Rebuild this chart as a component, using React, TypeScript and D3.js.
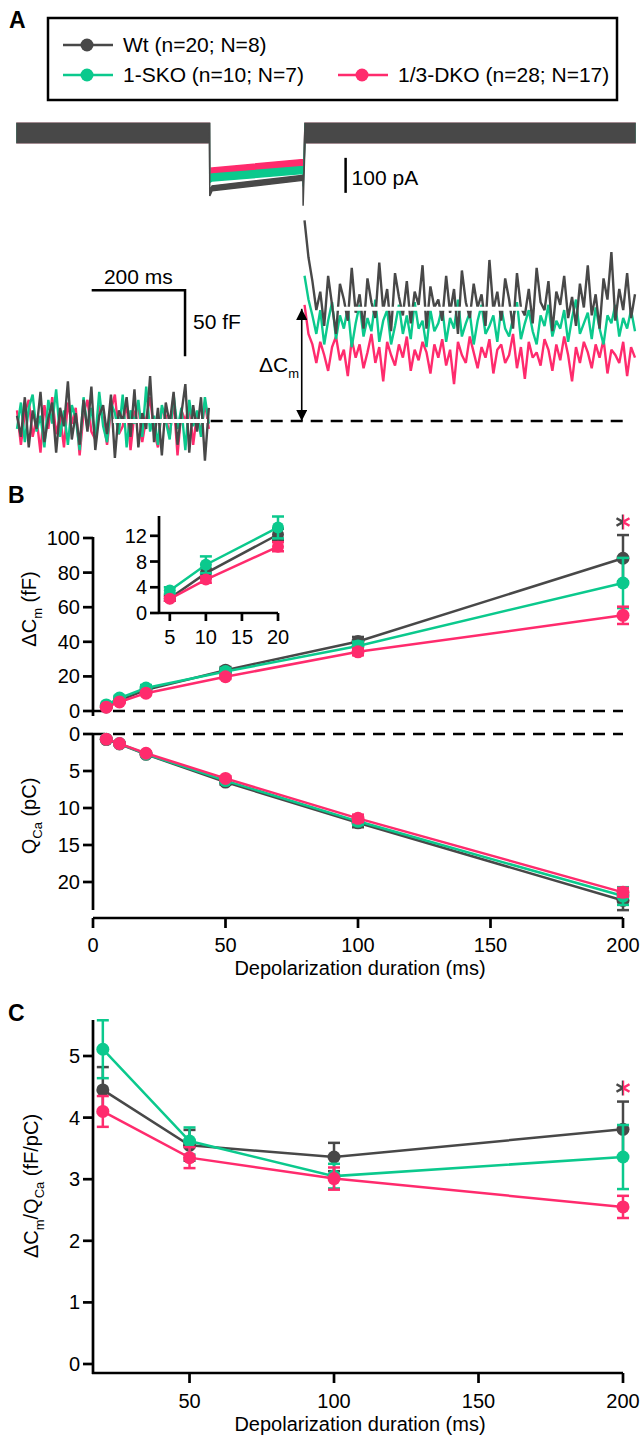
import React from "react";
import * as d3 from "d3";

const GRAY = "#484848";
const GREEN = "#0bc98d";
const PINK = "#ff2b6d";
const FONT = "'Liberation Sans', Arial, Helvetica, sans-serif";

// legend
const groupLabels = ["Wt (n=20; N=8)", "1-SKO (n=10; N=7)", "1/3-DKO (n=28; N=17)"];
const groupColors = [GRAY, GREEN, PINK];

// panel A - membrane current, key points (ms, pA) and noise half width (pA)
const currentTimes = [-413, -0.5, 0, 5, 199.5, 200, 204, 911];
const currentWt = [0, 0, -172, -158, -128, -205, 0, 0];
const currentWtNoise = [27, 27, 8, 7, 7, 3, 27, 27];
const currentSko = [0, 0, -130, -127, -106, -150, 0, 0];
const currentSkoNoise = [27, 27, 11, 10, 10, 3, 27, 27];
const currentDko = [0, 0, -112, -110, -86, -130, 0, 0];
const currentDkoNoise = [28, 28, 11, 10, 10, 3, 28, 28];

// panel A - capacitance traces (fF), before and after the 200 ms pulse
const preSpan = [-413, -2];
const postSpan = [203, 911];
const capPreWt = [4, -12, 18, -20, 8, -6, 22, -16, 2, 14, -24, 10, -4, 30, -14, 6, -18, 16, -8, 26, -22, 4, 12, -10, 20, -28, 8, 0, 18, -12, 24, -20, 6, -6, 34, -16, 10, -26, 14, -2, 22, -18, 6, 28, -24, 12, -8, 18, -30, 10];
const capPreSko = [-6, 14, -16, 10, 20, -8, 4, -20, 16, -2, 24, -12, 8, -18, 12, 2, -22, 18, -6, 10, -14, 22, -4, -16, 14, 6, -10, 20, -20, 8, -2, 16, -12, 26, -8, 4, -18, 12, 0, -14, 20, -6, 10, -22, 16, -4, 8, -12, 18, -2];
const capPreDko = [8, -18, 6, 16, -12, 2, -24, 12, -6, 18, -10, 4, -20, 14, -2, 10, -26, 6, 16, -8, -14, 12, 2, -18, 8, 20, -10, -4, 14, -22, 6, 12, -16, 2, 18, -8, -20, 10, 4, -12, 16, -26, 8, 0, 12, -18, 6, -10, 14, -6];
const capPostWt = [152, 124, 106, 84, 98, 72, 110, 88, 66, 104, 92, 76, 116, 82, 96, 70, 108, 90, 78, 120, 84, 100, 68, 112, 94, 80, 106, 74, 98, 88, 118, 70, 102, 86, 92, 76, 110, 82, 100, 66, 114, 90, 78, 104, 86, 96, 72, 122, 84, 98, 76, 108, 92, 70, 112, 86, 80, 100, 74, 116, 90, 84, 106, 68, 98, 88, 110, 78, 94, 72, 104, 86, 118, 80, 96, 70, 108, 92, 128, 76, 100, 84, 112, 78, 96];
const capPostSko = [110, 92, 80, 66, 84, 58, 76, 90, 62, 80, 70, 86, 56, 74, 88, 64, 78, 68, 92, 60, 76, 84, 58, 72, 88, 66, 80, 62, 90, 70, 76, 56, 84, 68, 74, 86, 60, 78, 70, 92, 64, 74, 82, 58, 76, 88, 66, 72, 80, 60, 86, 70, 64, 78, 90, 62, 74, 84, 68, 58, 80, 72, 88, 64, 76, 70, 84, 60, 78, 92, 66, 74, 82, 62, 86, 70, 58, 80, 74, 88, 64, 78, 70, 84, 68];
const capPostDko = [88, 66, 58, 44, 60, 50, 38, 56, 64, 46, 54, 34, 62, 48, 58, 40, 52, 66, 44, 56, 30, 60, 50, 42, 58, 48, 64, 38, 54, 46, 60, 52, 36, 58, 48, 62, 42, 54, 28, 60, 50, 44, 64, 52, 40, 56, 48, 62, 36, 54, 58, 44, 50, 66, 40, 56, 32, 60, 48, 52, 42, 62, 54, 38, 58, 46, 64, 50, 30, 56, 44, 60, 52, 40, 58, 48, 62, 36, 54, 50, 44, 60, 34, 56, 48];
const preWindow = [-207, -6];
const postWindow = [266, 673];
const postLevel = 85;

// panel B
const durations = [5, 10, 20, 50, 100, 200];
const dCmWt = [2.3, 6.2, 12.2, 23.6, 40.2, 88.3];
const dCmWtSem = [0.4, 0.7, 0.9, 1.8, 2.6, 13.4];
const dCmSko = [3.5, 7.5, 13.3, 22.8, 37.6, 74];
const dCmSkoSem = [0.5, 1.3, 1.7, 2, 2.5, 14.5];
const dCmDko = [2.2, 5.2, 10.3, 19.8, 34.2, 55.3];
const dCmDkoSem = [0.3, 0.5, 0.7, 1.3, 2, 5];
const qWt = [0.75, 1.35, 2.75, 6.5, 12.0, 22.5];
const qWtSem = [0.1, 0.15, 0.2, 0.35, 0.6, 1.3];
const qSko = [0.7, 1.3, 2.7, 6.3, 11.8, 21.9];
const qSkoSem = [0.1, 0.15, 0.2, 0.3, 0.5, 1.2];
const qDko = [0.7, 1.3, 2.6, 6.0, 11.4, 21.4];
const qDkoSem = [0.08, 0.12, 0.2, 0.3, 0.5, 0.6];
const bTopTicks = [0, 20, 40, 60, 80, 100];
const bBottomTicks = [0, 5, 10, 15, 20];
const bXTicks = [0, 50, 100, 150, 200];
const insetYTicks = [0, 4, 8, 12];
const insetXTicks = [5, 10, 15, 20];

// panel C
const ratioDurations = [20, 50, 100, 200];
const ratioWt = [4.45, 3.55, 3.36, 3.81];
const ratioWtSem = [0.37, 0.25, 0.23, 0.45];
const ratioSko = [5.11, 3.62, 3.05, 3.36];
const ratioSkoSem = [0.47, 0.22, 0.2, 0.52];
const ratioDko = [4.1, 3.35, 3.01, 2.55];
const ratioDkoSem = [0.25, 0.17, 0.18, 0.18];
const cYTicks = [0, 1, 2, 3, 4, 5];
const cXTicks = [50, 100, 150, 200];

type Scale = d3.ScaleLinear<number, number>;

function Series(props: { xs: number[]; ys: number[]; sems: number[]; x: Scale; y: Scale; color: string; r: number }) {
  const { xs, ys, sems, x, y, color, r } = props;
  const line = d3.line<number>().x((_, i) => x(xs[i])).y((d) => y(d));
  const cap = 6;
  return (
    <g>
      <path d={line(ys) || ""} fill="none" stroke={color} strokeWidth={2.5} />
      {ys.map((v, i) => {
        const cx = x(xs[i]);
        const y0 = y(v - sems[i]);
        const y1 = y(v + sems[i]);
        return (
          <g key={i} stroke={color} strokeWidth={2.5}>
            <line x1={cx} x2={cx} y1={y0} y2={y1} />
            <line x1={cx - cap} x2={cx + cap} y1={y0} y2={y0} />
            <line x1={cx - cap} x2={cx + cap} y1={y1} y2={y1} />
          </g>
        );
      })}
      {ys.map((v, i) => (
        <circle key={i} cx={x(xs[i])} cy={y(v)} r={r} fill={color} />
      ))}
    </g>
  );
}

function YAxis(props: { y: Scale; ticks: number[]; x: number; top: number; bottom: number; len?: number; gap?: number }) {
  const { y, ticks, x, top, bottom } = props;
  const len = props.len ?? 10;
  const gap = props.gap ?? 3;
  return (
    <g>
      <line x1={x} x2={x} y1={top} y2={bottom} stroke="#000" strokeWidth={2.7} />
      {ticks.map((t) => (
        <g key={t}>
          <line x1={x - len} x2={x} y1={y(t)} y2={y(t)} stroke="#000" strokeWidth={2.7} />
          <text x={x - len - gap} y={y(t) + 7} textAnchor="end">{t}</text>
        </g>
      ))}
    </g>
  );
}

function XAxis(props: { x: Scale; ticks: number[]; y: number; left: number; right: number; labelY: number; len?: number }) {
  const { x, ticks, y, left, right, labelY } = props;
  const len = props.len ?? 10;
  return (
    <g>
      <line x1={left} x2={right} y1={y} y2={y} stroke="#000" strokeWidth={2.7} />
      {ticks.map((t) => (
        <g key={t}>
          <line x1={x(t)} x2={x(t)} y1={y} y2={y + len} stroke="#000" strokeWidth={2.7} />
          <text x={x(t)} y={labelY} textAnchor="middle">{t}</text>
        </g>
      ))}
    </g>
  );
}

function Asterisk(props: { cx: number; cy: number; id: string }) {
  const { cx, cy, id } = props;
  const r = 7.5;
  const d = [90, 30, -30]
    .map((a) => (a * Math.PI) / 180)
    .map((a) => `M${cx - r * Math.cos(a)},${cy - r * Math.sin(a)}L${cx + r * Math.cos(a)},${cy + r * Math.sin(a)}`)
    .join("");
  return (
    <g>
      <clipPath id={id + "L"}><rect x={cx - 10} y={cy - 10} width={10} height={20} /></clipPath>
      <clipPath id={id + "R"}><rect x={cx} y={cy - 10} width={10} height={20} /></clipPath>
      <path d={d} stroke={GRAY} strokeWidth={2.4} clipPath={`url(#${id}L)`} />
      <path d={d} stroke={PINK} strokeWidth={2.4} clipPath={`url(#${id}R)`} />
    </g>
  );
}

export default function App() {
  // panel A scales
  const xA = d3.scaleLinear().domain([-413, 911]).range([17, 635]);
  const yI = d3.scaleLinear().domain([0, -100]).range([133, 168]);
  const yCap = d3.scaleLinear().domain([0, 50]).range([421, 355]);

  const currentArea = (vals: number[], noise: number[]) =>
    d3
      .area<number>()
      .x((_, i) => xA(currentTimes[i]))
      .y0((d, i) => yI(d - noise[i]))
      .y1((d, i) => yI(d + noise[i]))(vals) || "";

  const capLine = (vals: number[], span: number[]) => {
    const t = d3.scaleLinear().domain([0, vals.length - 1]).range(span);
    return d3.line<number>().x((_, i) => xA(t(i))).y((d) => yCap(d))(vals) || "";
  };

  const capTraces = [
    { pre: capPreDko, post: capPostDko, color: PINK },
    { pre: capPreSko, post: capPostSko, color: GREEN },
    { pre: capPreWt, post: capPostWt, color: GRAY },
  ];

  // panel B scales
  const xB = d3.scaleLinear().domain([0, 200]).range([93, 623]);
  const yBTop = d3.scaleLinear().domain([0, 100]).range([711, 538]);
  const yBBottom = d3.scaleLinear().domain([0, 20]).range([734, 882]);
  const xIn = d3.scaleLinear().domain([3.5, 20]).range([159, 278]);
  const yIn = d3.scaleLinear().domain([0, 15]).range([613, 516.5]);

  // panel C scales
  const xC = d3.scaleLinear().domain([16.6, 200]).range([93, 623]);
  const yC = d3.scaleLinear().domain([0, 5]).range([1364, 1056]);

  const bTop = [
    { ys: dCmWt, sems: dCmWtSem, color: GRAY },
    { ys: dCmSko, sems: dCmSkoSem, color: GREEN },
    { ys: dCmDko, sems: dCmDkoSem, color: PINK },
  ];
  const bBottom = [
    { ys: qWt, sems: qWtSem, color: GRAY },
    { ys: qSko, sems: qSkoSem, color: GREEN },
    { ys: qDko, sems: qDkoSem, color: PINK },
  ];
  const cSeries = [
    { ys: ratioWt, sems: ratioWtSem, color: GRAY },
    { ys: ratioSko, sems: ratioSkoSem, color: GREEN },
    { ys: ratioDko, sems: ratioDkoSem, color: PINK },
  ];

  return (
    <svg width={642} height={1435} style={{ position: "absolute", left: 0, top: 0 }} fontFamily={FONT} fontSize={20}>
      <rect width={642} height={1435} fill="#fff" />

      {/* ---------- A ---------- */}
      <text x={9} y={28} fontSize={23} fontWeight="bold">A</text>
      <rect x={48} y={18} width={569} height={82} fill="none" stroke="#000" strokeWidth={2.5} />
      {groupLabels.map((label, i) => {
        const lx = i === 2 ? 338 : 63;
        const ly = i === 0 ? 45 : 75;
        return (
          <g key={label}>
            <line x1={lx} x2={lx + 50} y1={ly} y2={ly} stroke={groupColors[i]} strokeWidth={2.5} />
            <circle cx={lx + 24} cy={ly} r={6.5} fill={groupColors[i]} />
            <text x={lx + 60} y={ly + 7} fontSize={21}>{label}</text>
          </g>
        );
      })}

      {/* current traces */}
      <path d={currentArea(currentDko, currentDkoNoise)} fill={PINK} stroke={PINK} strokeWidth={1.5} />
      <path d={currentArea(currentSko, currentSkoNoise)} fill={GREEN} stroke={GREEN} strokeWidth={1.5} />
      <path d={currentArea(currentWt, currentWtNoise)} fill={GRAY} stroke={GRAY} strokeWidth={1.5} />
      <line x1={xA(291)} x2={xA(291)} y1={yI(-71)} y2={yI(-171)} stroke="#000" strokeWidth={2.5} />
      <text x={xA(291) + 6} y={185} fontSize={21}>100 pA</text>

      {/* capacitance traces */}
      <line x1={xA(2)} x2={xA(890)} y1={yCap(0)} y2={yCap(0)} stroke="#000" strokeWidth={2.5} strokeDasharray="12 8" />
      {capTraces.map((c) => (
        <g key={c.color} fill="none" stroke={c.color} strokeWidth={2.4} strokeLinejoin="miter" strokeMiterlimit={2}>
          <path d={capLine(c.pre, preSpan)} />
          <path d={capLine(c.post, postSpan)} />
        </g>
      ))}
      <line x1={xA(preWindow[0])} x2={xA(preWindow[1])} y1={yCap(0)} y2={yCap(0)} stroke="#fff" strokeWidth={4} />
      <line x1={xA(postWindow[0])} x2={xA(postWindow[1])} y1={yCap(postLevel)} y2={yCap(postLevel)} stroke="#fff" strokeWidth={4} />

      {/* delta Cm arrow */}
      <defs>
        <marker id="ah" viewBox="0 0 10 10" refX={10} refY={5} markerWidth={7} markerHeight={7} orient="auto-start-reverse">
          <path d="M0,0L10,5L0,10z" fill="#000" />
        </marker>
      </defs>
      <line x1={xA(197)} x2={xA(197)} y1={yCap(0)} y2={yCap(postLevel)} stroke="#000" strokeWidth={1.6} markerStart="url(#ah)" markerEnd="url(#ah)" />
      <text x={259} y={372} fontSize={21}>ΔC<tspan fontSize={13} dy={6}>m</tspan></text>

      {/* scale bars */}
      <path d={`M${xA(-253)},${yCap(99)}H${xA(-53)}V${yCap(49)}`} fill="none" stroke="#000" strokeWidth={2.5} />
      <text x={(xA(-253) + xA(-53)) / 2} y={284} textAnchor="middle" fontSize={21}>200 ms</text>
      <text x={xA(-53) + 8} y={329} fontSize={21}>50 fF</text>

      {/* ---------- B ---------- */}
      <text x={8} y={503} fontSize={23} fontWeight="bold">B</text>
      <YAxis y={yBTop} ticks={bTopTicks} x={93} top={537} bottom={716} />
      <line x1={93} x2={623} y1={yBTop(0)} y2={yBTop(0)} stroke="#000" strokeWidth={2.5} strokeDasharray="12 8" />
      {bTop.map((s) => (
        <Series key={s.color} xs={durations} ys={s.ys} sems={s.sems} x={xB} y={yBTop} color={s.color} r={6.5} />
      ))}
      <Asterisk cx={623} cy={522} id="astB" />
      <text transform="translate(36,609) rotate(-90)" textAnchor="middle">
        ΔC<tspan fontSize={13} dy={6}>m</tspan><tspan dy={-6}> (fF)</tspan>
      </text>

      {/* inset */}
      <YAxis y={yIn} ticks={insetYTicks} x={159} top={516} bottom={614} len={9} gap={3} />
      <XAxis x={xIn} ticks={insetXTicks} y={613} left={159} right={278} labelY={644} len={8} />
      {bTop.map((s) => (
        <Series key={s.color} xs={durations.slice(0, 3)} ys={s.ys.slice(0, 3)} sems={s.sems.slice(0, 3)} x={xIn} y={yIn} color={s.color} r={6} />
      ))}

      {/* charge */}
      <YAxis y={yBBottom} ticks={bBottomTicks} x={93} top={733} bottom={910} />
      <line x1={93} x2={623} y1={yBBottom(0)} y2={yBBottom(0)} stroke="#000" strokeWidth={2.5} strokeDasharray="12 8" />
      {bBottom.map((s) => (
        <Series key={s.color} xs={durations} ys={s.ys} sems={s.sems} x={xB} y={yBBottom} color={s.color} r={6.5} />
      ))}
      <text transform="translate(36,816) rotate(-90)" textAnchor="middle">
        Q<tspan fontSize={13} dy={6}>Ca</tspan><tspan dy={-6}> (pC)</tspan>
      </text>
      <XAxis x={xB} ticks={bXTicks} y={918} left={93} right={623} labelY={952} />
      <text x={360} y={975} textAnchor="middle">Depolarization duration (ms)</text>

      {/* ---------- C ---------- */}
      <text x={8} y={1021} fontSize={23} fontWeight="bold">C</text>
      <YAxis y={yC} ticks={cYTicks} x={93} top={1020} bottom={1374} />
      <XAxis x={xC} ticks={cXTicks} y={1373} left={92} right={623} labelY={1408} />
      {cSeries.map((s) => (
        <Series key={s.color} xs={ratioDurations} ys={s.ys} sems={s.sems} x={xC} y={yC} color={s.color} r={6.5} />
      ))}
      <Asterisk cx={623} cy={1088} id="astC" />
      <text transform="translate(38,1186) rotate(-90)" textAnchor="middle">
        ΔC<tspan fontSize={13} dy={6}>m</tspan><tspan dy={-6}>/Q</tspan><tspan fontSize={13} dy={6}>Ca</tspan><tspan dy={-6}> (fF/pC)</tspan>
      </text>
      <text x={360} y={1431} textAnchor="middle">Depolarization duration (ms)</text>
    </svg>
  );
}
